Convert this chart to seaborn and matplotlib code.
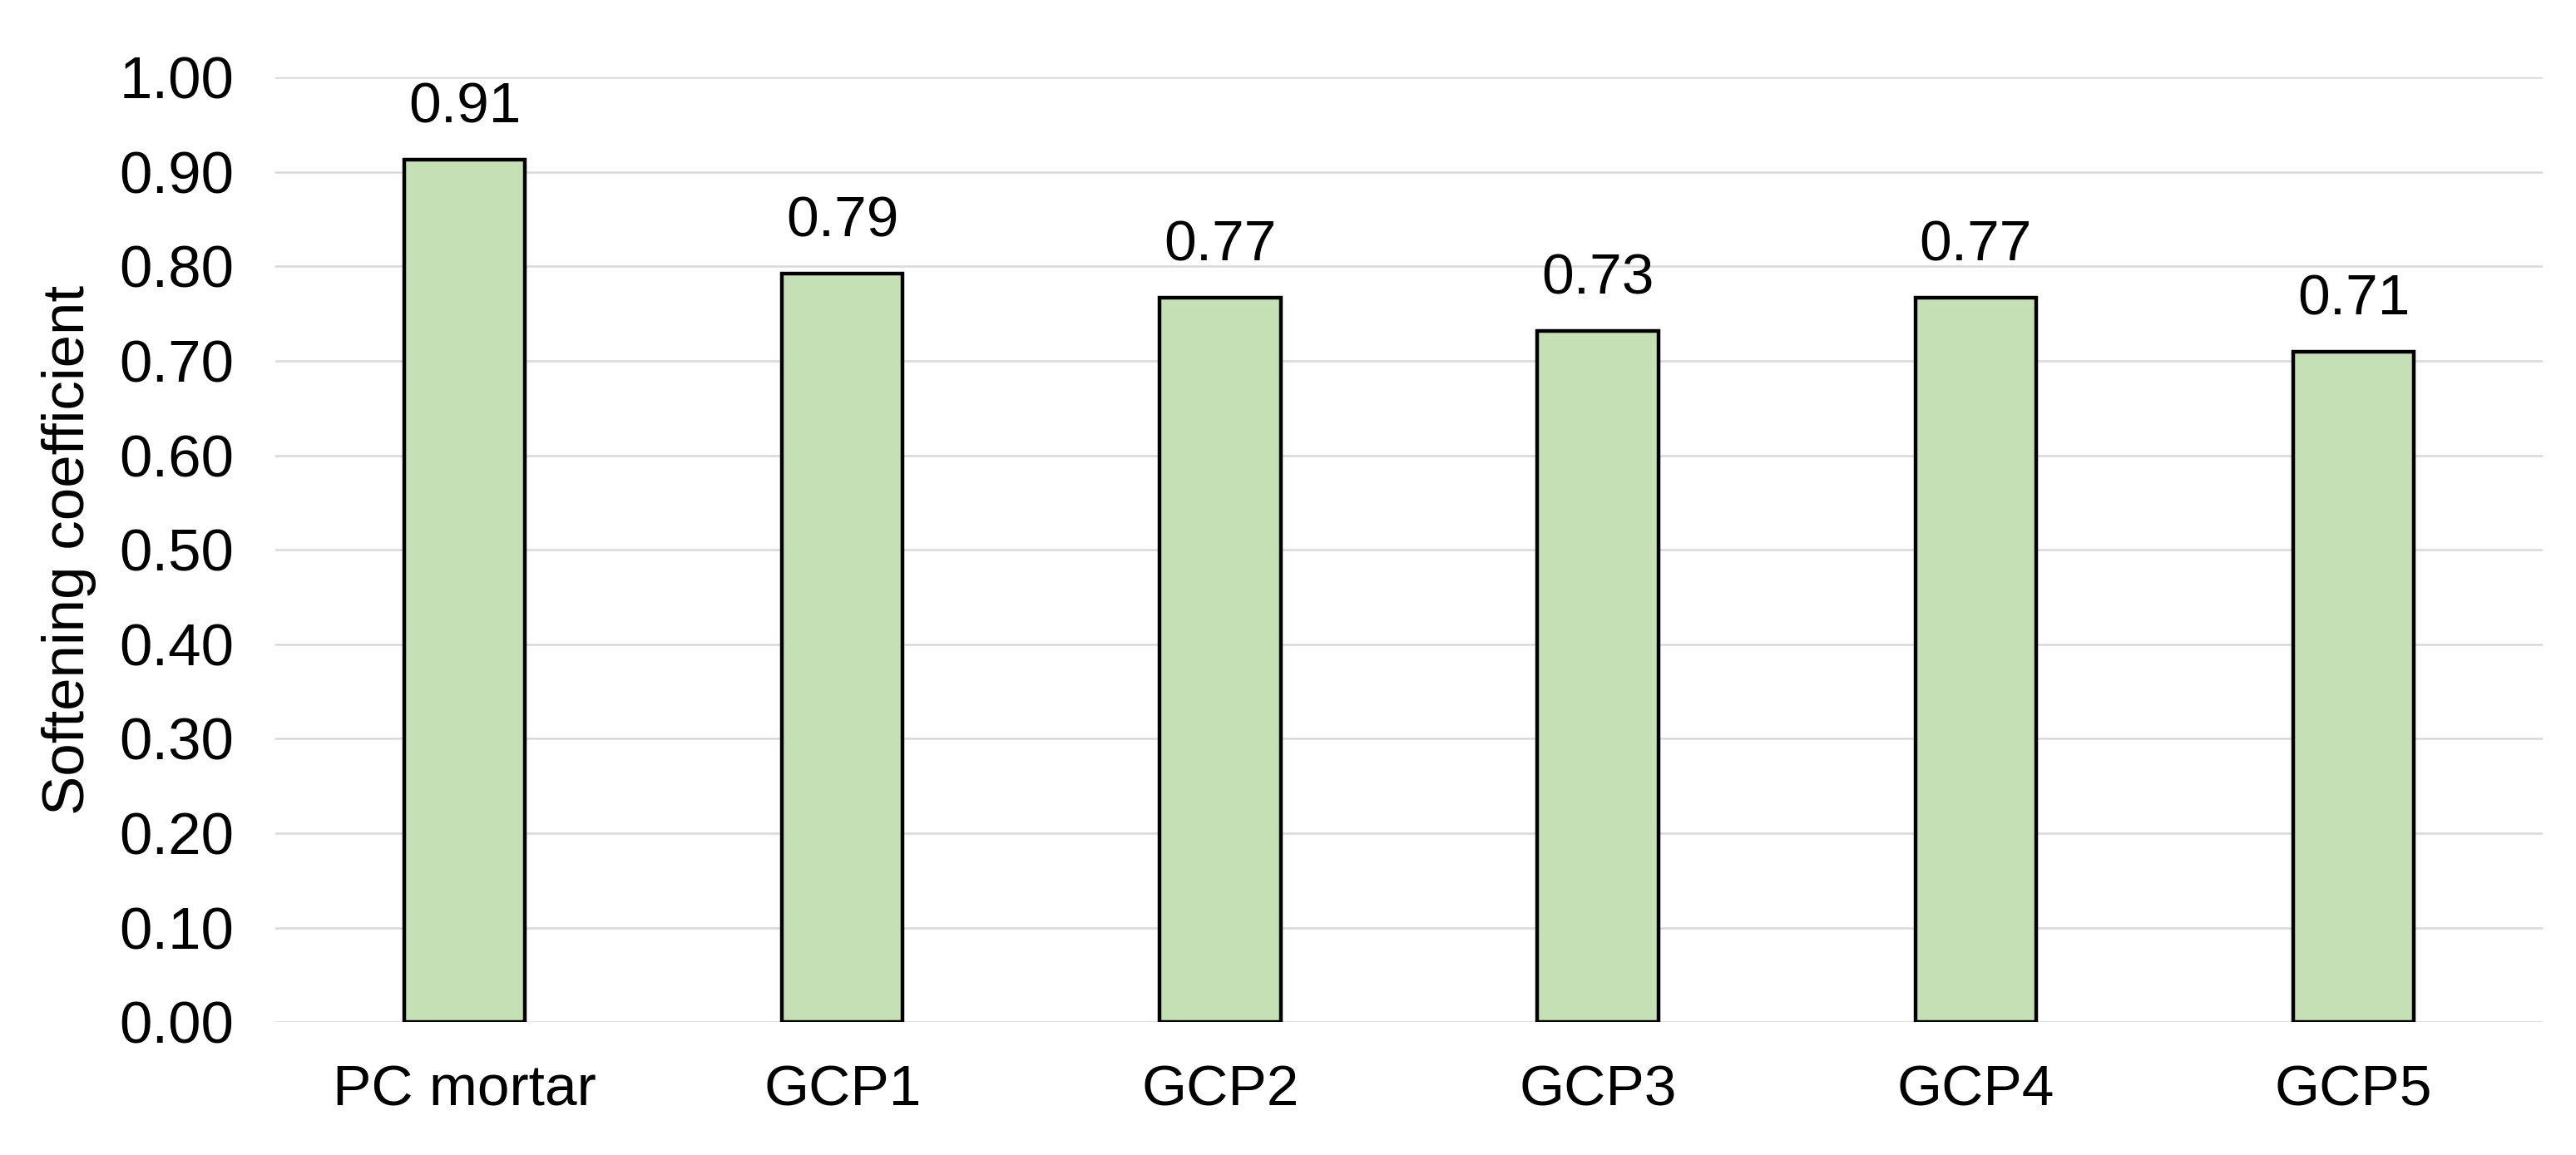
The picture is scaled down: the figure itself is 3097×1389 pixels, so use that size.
import pandas as pd
import numpy as np
import seaborn as sns
import matplotlib.pyplot as plt

categories = ["PC mortar", "GCP1", "GCP2", "GCP3", "GCP4", "GCP5"]
softening = [0.913, 0.792, 0.767, 0.732, 0.767, 0.710]
y_ticks = [0.0, 0.1, 0.2, 0.3, 0.4, 0.5, 0.6, 0.7, 0.8, 0.9, 1.0]

df = pd.DataFrame({"Sample": categories, "Softening coefficient": softening})

sns.set_theme(style="white")
plt.rcParams["font.family"] = ["Liberation Sans", "DejaVu Sans"]

fig, ax = plt.subplots(figsize=(30.97, 13.89), dpi=100)
fig.subplots_adjust(left=0.107, right=0.987, top=0.933, bottom=0.115)

sns.barplot(data=df, x="Sample", y="Softening coefficient", color="#c5e0b4",
            edgecolor="black", linewidth=3.2, width=0.32, saturation=1, ax=ax)

# value labels above the bars
for p, v in zip(ax.patches, softening):
    ax.annotate(f"{v:.2f}", (p.get_x() + p.get_width() / 2, p.get_height()),
                xytext=(0, 22), textcoords="offset points",
                ha="center", va="bottom", fontsize=50, color="black")

ax.set_ylim(0, 1.0)
ax.set_xlim(-0.5, len(categories) - 0.5)
ax.set_yticks(y_ticks)
ax.set_yticklabels([f"{t:.2f}" for t in y_ticks])
ax.yaxis.grid(True, color="#d9d9d9", linewidth=1.8)
ax.set_axisbelow(True)
for s in ax.spines.values():
    s.set_visible(False)
ax.tick_params(axis="y", labelsize=51, pad=36, length=0, colors="black")
ax.tick_params(axis="x", labelsize=50, pad=36, length=0, colors="black")
ax.set_xlabel("")
ax.set_ylabel("Softening coefficient", fontsize=51, labelpad=20, color="black")

plt.savefig("out.png", dpi=100)
